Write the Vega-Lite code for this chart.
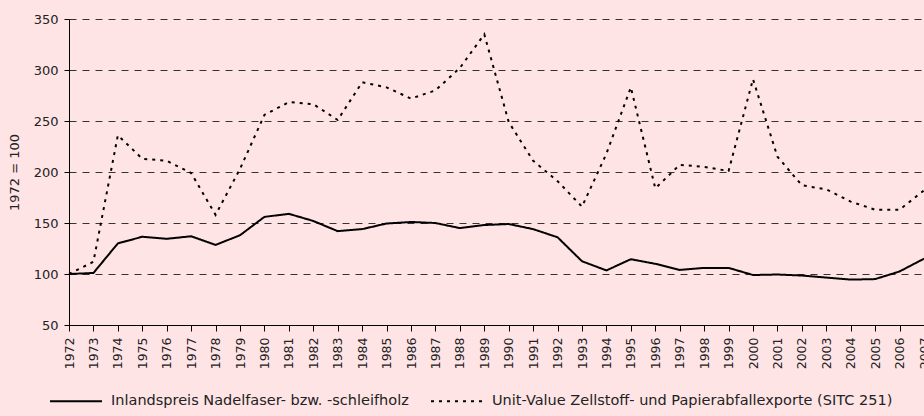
{
  "$schema": "https://vega.github.io/schema/vega-lite/v6.json",
  "width": 855,
  "height": 306,
  "autosize": {"type": "none"},
  "padding": {"left": 69, "top": 19, "right": 0, "bottom": 91},
  "background": "#FFE4E6",
  "config": {
    "view": {"stroke": null},
    "font": "DejaVu Sans",
    "axis": {"labelFont": "DejaVu Sans", "titleFont": "DejaVu Sans", "labelColor": "#222", "titleColor": "#222"}
  },
  "data": {"values": [
    {"year": "1972", "series": "Inlandspreis Nadelfaser- bzw. -schleifholz", "value": 100},
    {"year": "1973", "series": "Inlandspreis Nadelfaser- bzw. -schleifholz", "value": 101},
    {"year": "1974", "series": "Inlandspreis Nadelfaser- bzw. -schleifholz", "value": 130},
    {"year": "1975", "series": "Inlandspreis Nadelfaser- bzw. -schleifholz", "value": 136.5},
    {"year": "1976", "series": "Inlandspreis Nadelfaser- bzw. -schleifholz", "value": 134.5},
    {"year": "1977", "series": "Inlandspreis Nadelfaser- bzw. -schleifholz", "value": 137},
    {"year": "1978", "series": "Inlandspreis Nadelfaser- bzw. -schleifholz", "value": 128.5},
    {"year": "1979", "series": "Inlandspreis Nadelfaser- bzw. -schleifholz", "value": 138},
    {"year": "1980", "series": "Inlandspreis Nadelfaser- bzw. -schleifholz", "value": 156},
    {"year": "1981", "series": "Inlandspreis Nadelfaser- bzw. -schleifholz", "value": 159},
    {"year": "1982", "series": "Inlandspreis Nadelfaser- bzw. -schleifholz", "value": 152},
    {"year": "1983", "series": "Inlandspreis Nadelfaser- bzw. -schleifholz", "value": 142},
    {"year": "1984", "series": "Inlandspreis Nadelfaser- bzw. -schleifholz", "value": 144},
    {"year": "1985", "series": "Inlandspreis Nadelfaser- bzw. -schleifholz", "value": 149.5},
    {"year": "1986", "series": "Inlandspreis Nadelfaser- bzw. -schleifholz", "value": 151},
    {"year": "1987", "series": "Inlandspreis Nadelfaser- bzw. -schleifholz", "value": 150},
    {"year": "1988", "series": "Inlandspreis Nadelfaser- bzw. -schleifholz", "value": 145},
    {"year": "1989", "series": "Inlandspreis Nadelfaser- bzw. -schleifholz", "value": 148},
    {"year": "1990", "series": "Inlandspreis Nadelfaser- bzw. -schleifholz", "value": 149},
    {"year": "1991", "series": "Inlandspreis Nadelfaser- bzw. -schleifholz", "value": 144},
    {"year": "1992", "series": "Inlandspreis Nadelfaser- bzw. -schleifholz", "value": 136},
    {"year": "1993", "series": "Inlandspreis Nadelfaser- bzw. -schleifholz", "value": 112.5},
    {"year": "1994", "series": "Inlandspreis Nadelfaser- bzw. -schleifholz", "value": 103.5},
    {"year": "1995", "series": "Inlandspreis Nadelfaser- bzw. -schleifholz", "value": 114.5},
    {"year": "1996", "series": "Inlandspreis Nadelfaser- bzw. -schleifholz", "value": 110},
    {"year": "1997", "series": "Inlandspreis Nadelfaser- bzw. -schleifholz", "value": 104},
    {"year": "1998", "series": "Inlandspreis Nadelfaser- bzw. -schleifholz", "value": 106},
    {"year": "1999", "series": "Inlandspreis Nadelfaser- bzw. -schleifholz", "value": 106},
    {"year": "2000", "series": "Inlandspreis Nadelfaser- bzw. -schleifholz", "value": 99},
    {"year": "2001", "series": "Inlandspreis Nadelfaser- bzw. -schleifholz", "value": 99.5},
    {"year": "2002", "series": "Inlandspreis Nadelfaser- bzw. -schleifholz", "value": 98.5},
    {"year": "2003", "series": "Inlandspreis Nadelfaser- bzw. -schleifholz", "value": 96.5},
    {"year": "2004", "series": "Inlandspreis Nadelfaser- bzw. -schleifholz", "value": 94.5},
    {"year": "2005", "series": "Inlandspreis Nadelfaser- bzw. -schleifholz", "value": 95},
    {"year": "2006", "series": "Inlandspreis Nadelfaser- bzw. -schleifholz", "value": 102.5},
    {"year": "2007", "series": "Inlandspreis Nadelfaser- bzw. -schleifholz", "value": 115},
    {"year": "1972", "series": "Unit-Value Zellstoff- und Papierabfallexporte (SITC 251)", "value": 100},
    {"year": "1973", "series": "Unit-Value Zellstoff- und Papierabfallexporte (SITC 251)", "value": 112},
    {"year": "1974", "series": "Unit-Value Zellstoff- und Papierabfallexporte (SITC 251)", "value": 236},
    {"year": "1975", "series": "Unit-Value Zellstoff- und Papierabfallexporte (SITC 251)", "value": 213},
    {"year": "1976", "series": "Unit-Value Zellstoff- und Papierabfallexporte (SITC 251)", "value": 211},
    {"year": "1977", "series": "Unit-Value Zellstoff- und Papierabfallexporte (SITC 251)", "value": 199},
    {"year": "1978", "series": "Unit-Value Zellstoff- und Papierabfallexporte (SITC 251)", "value": 158},
    {"year": "1979", "series": "Unit-Value Zellstoff- und Papierabfallexporte (SITC 251)", "value": 203},
    {"year": "1980", "series": "Unit-Value Zellstoff- und Papierabfallexporte (SITC 251)", "value": 256},
    {"year": "1981", "series": "Unit-Value Zellstoff- und Papierabfallexporte (SITC 251)", "value": 268.5},
    {"year": "1982", "series": "Unit-Value Zellstoff- und Papierabfallexporte (SITC 251)", "value": 266.5},
    {"year": "1983", "series": "Unit-Value Zellstoff- und Papierabfallexporte (SITC 251)", "value": 251},
    {"year": "1984", "series": "Unit-Value Zellstoff- und Papierabfallexporte (SITC 251)", "value": 288},
    {"year": "1985", "series": "Unit-Value Zellstoff- und Papierabfallexporte (SITC 251)", "value": 283},
    {"year": "1986", "series": "Unit-Value Zellstoff- und Papierabfallexporte (SITC 251)", "value": 272},
    {"year": "1987", "series": "Unit-Value Zellstoff- und Papierabfallexporte (SITC 251)", "value": 280},
    {"year": "1988", "series": "Unit-Value Zellstoff- und Papierabfallexporte (SITC 251)", "value": 302},
    {"year": "1989", "series": "Unit-Value Zellstoff- und Papierabfallexporte (SITC 251)", "value": 335},
    {"year": "1990", "series": "Unit-Value Zellstoff- und Papierabfallexporte (SITC 251)", "value": 249},
    {"year": "1991", "series": "Unit-Value Zellstoff- und Papierabfallexporte (SITC 251)", "value": 211},
    {"year": "1992", "series": "Unit-Value Zellstoff- und Papierabfallexporte (SITC 251)", "value": 191},
    {"year": "1993", "series": "Unit-Value Zellstoff- und Papierabfallexporte (SITC 251)", "value": 166},
    {"year": "1994", "series": "Unit-Value Zellstoff- und Papierabfallexporte (SITC 251)", "value": 218},
    {"year": "1995", "series": "Unit-Value Zellstoff- und Papierabfallexporte (SITC 251)", "value": 283},
    {"year": "1996", "series": "Unit-Value Zellstoff- und Papierabfallexporte (SITC 251)", "value": 184},
    {"year": "1997", "series": "Unit-Value Zellstoff- und Papierabfallexporte (SITC 251)", "value": 207},
    {"year": "1998", "series": "Unit-Value Zellstoff- und Papierabfallexporte (SITC 251)", "value": 205},
    {"year": "1999", "series": "Unit-Value Zellstoff- und Papierabfallexporte (SITC 251)", "value": 201},
    {"year": "2000", "series": "Unit-Value Zellstoff- und Papierabfallexporte (SITC 251)", "value": 291},
    {"year": "2001", "series": "Unit-Value Zellstoff- und Papierabfallexporte (SITC 251)", "value": 215},
    {"year": "2002", "series": "Unit-Value Zellstoff- und Papierabfallexporte (SITC 251)", "value": 187},
    {"year": "2003", "series": "Unit-Value Zellstoff- und Papierabfallexporte (SITC 251)", "value": 183},
    {"year": "2004", "series": "Unit-Value Zellstoff- und Papierabfallexporte (SITC 251)", "value": 171},
    {"year": "2005", "series": "Unit-Value Zellstoff- und Papierabfallexporte (SITC 251)", "value": 163},
    {"year": "2006", "series": "Unit-Value Zellstoff- und Papierabfallexporte (SITC 251)", "value": 163},
    {"year": "2007", "series": "Unit-Value Zellstoff- und Papierabfallexporte (SITC 251)", "value": 182}
  ]},
  "mark": {"type": "line", "color": "#000", "strokeWidth": 2, "clip": false},
  "encoding": {
    "x": {
      "field": "year", "type": "ordinal",
      "scale": {"type": "point", "padding": 0},
      "axis": {
        "title": null, "labelAngle": -90, "labelFontSize": 12.5, "labelPadding": 6,
        "tickSize": 6, "tickColor": "#000", "domainColor": "#000", "grid": false
      }
    },
    "y": {
      "field": "value", "type": "quantitative",
      "scale": {"domain": [50, 350], "nice": false, "zero": false},
      "axis": {
        "title": "1972 = 100", "titleFontSize": 13, "titleFontWeight": "normal", "titlePadding": 12,
        "values": [50, 100, 150, 200, 250, 300, 350],
        "labelFontSize": 13, "labelPadding": 6, "tickSize": 5, "tickColor": "#000", "domainColor": "#000",
        "grid": true, "gridColor": "#333", "gridDash": [7, 6], "gridWidth": 1
      }
    },
    "strokeDash": {
      "field": "series", "type": "nominal",
      "scale": {
        "domain": ["Inlandspreis Nadelfaser- bzw. -schleifholz", "Unit-Value Zellstoff- und Papierabfallexporte (SITC 251)"],
        "range": [[1, 0], [3, 5]]
      },
      "legend": {
        "title": null, "orient": "none", "direction": "horizontal",
        "legendX": -20, "legendY": 355,
        "symbolType": "stroke", "symbolSize": 2704, "symbolStrokeWidth": 2, "symbolStrokeColor": "#000",
        "labelFontSize": 14.5, "labelColor": "#222", "labelOffset": 8, "columnPadding": 18, "labelLimit": 600
      }
    }
  }
}
